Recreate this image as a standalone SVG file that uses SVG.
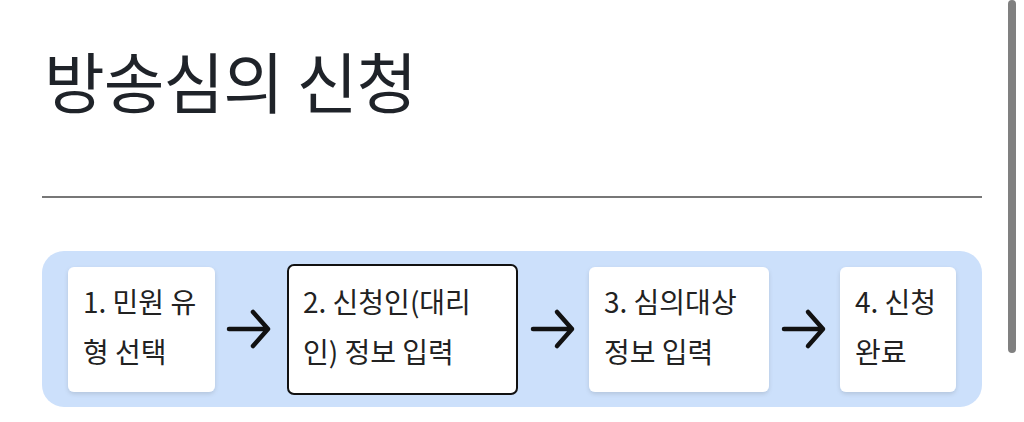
<svg xmlns="http://www.w3.org/2000/svg" width="1024" height="422" viewBox="0 0 1024 422">
<style>
.t{font-family:"Noto Sans CJK KR","Noto Sans",sans-serif;font-size:28px;fill:#222}
.box{fill:#fff}
.arr{stroke:#111;stroke-width:4.5;fill:none;stroke-linecap:round;stroke-linejoin:round}
</style>
<defs>
<filter id="sh" x="-10%" y="-10%" width="120%" height="130%">
<feDropShadow dx="0" dy="2" stdDeviation="2" flood-color="#000" flood-opacity="0.12"/>
</filter>
</defs>
<rect width="1024" height="422" fill="#fff"/>
<text x="44" y="108" font-family="Noto Sans CJK KR,sans-serif" font-size="66" letter-spacing="-1" fill="#1f2329">방송심의 신청</text>
<rect x="42" y="196" width="940" height="2" fill="#777"/>
<rect x="1008" y="0" width="8" height="353" rx="4" fill="#808080"/>
<rect x="42" y="251" width="940" height="156" rx="22" fill="#cce0fb"/>
<g id="node1">
<rect class="box" x="68" y="267" width="147" height="125" rx="6" filter="url(#sh)"/>
<text class="t" x="83" y="313">1. 민원 유</text>
<text class="t" x="83" y="363">형 선택</text>
</g>
<g id="node2">
<rect x="288" y="265" width="229" height="129" rx="6" fill="#fff" stroke="#111" stroke-width="2"/>
<text class="t" x="303" y="313">2. 신청인(대리</text>
<text class="t" x="303" y="363">인) 정보 입력</text>
</g>
<g id="node3">
<rect class="box" x="589" y="267" width="180" height="125" rx="6" filter="url(#sh)"/>
<text class="t" x="604" y="313">3. 심의대상</text>
<text class="t" x="604" y="363">정보 입력</text>
</g>
<g id="node4">
<rect class="box" x="840" y="267" width="116" height="125" rx="6" filter="url(#sh)"/>
<text class="t" x="855" y="313">4. 신청</text>
<text class="t" x="855" y="363">완료</text>
</g>
<g id="connectors">
<path class="arr" d="M229 329H268M253 312L268 329L253 346"/>
<path class="arr" d="M533 329H572M557 312L572 329L557 346"/>
<path class="arr" d="M784 329H823M808 312L823 329L808 346"/>
</g>
</svg>
